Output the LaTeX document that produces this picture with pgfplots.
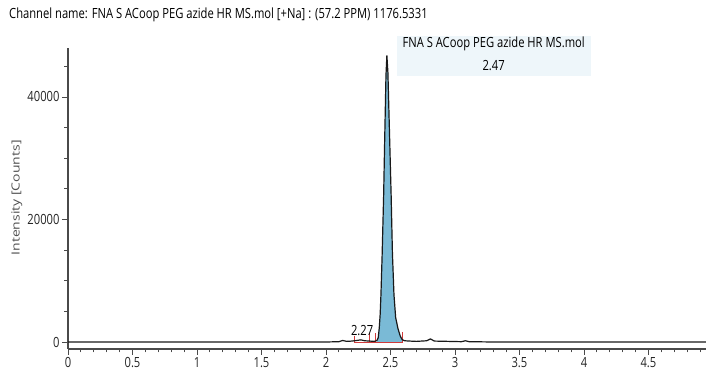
\documentclass[border=0pt]{standalone}
\usepackage{fontspec}
\setmainfont{Open Sans}[FakeStretch=0.8]
\newfontfamily\ylabfont{Open Sans}
\usepackage{graphicx}
\usepackage{pgfplots}
\pgfplotsset{compat=1.18}
\definecolor{axgray}{HTML}{4A4A4A}
\definecolor{peakblue}{HTML}{7ABAD6}
\definecolor{boxblue}{HTML}{EEF6FA}
\definecolor{intred}{HTML}{D03A3A}
\definecolor{labgray}{HTML}{505050}
\begin{document}
\begin{tikzpicture}[x=1pt,y=1pt]
\useasboundingbox (0,0) rectangle (706,371);
\node[anchor=west, inner sep=0pt, font=\fontsize{14}{16}\selectfont] at (9,356) {Channel name: FNA S ACoop PEG azide HR MS.mol [+Na] : (57.2 PPM) 1176.5331};
\begin{axis}[
  scale only axis, width=638pt, height=301pt,
  at={(68pt,22pt)}, anchor=south west,
  xmin=0, xmax=4.946, ymin=-1143, ymax=48000,
  axis x line*=bottom, axis y line*=left,
  axis line style={-, axgray, line width=1.6pt},
  tick style={axgray, line width=0.8pt},
  tick align=outside,
  major tick length=6pt, minor tick length=3.5pt,
  scaled y ticks=false, scaled x ticks=false,
  xtick={0,0.5,1,1.5,2,2.5,3,3.5,4,4.5},
  xticklabels={0,0.5,1,1.5,2,2.5,3,3.5,4,4.5},
  minor xtick={0.1,0.2,0.3,0.4,0.6,0.7,0.8,0.9,1.1,1.2,1.3,1.4,1.6,1.7,1.8,1.9,2.1,2.2,2.3,2.4,2.6,2.7,2.8,2.9,3.1,3.2,3.3,3.4,3.6,3.7,3.8,3.9,4.1,4.2,4.3,4.4,4.6,4.7,4.8,4.9},
  ytick={0,20000,40000},
  yticklabels={0,20000,40000},
  minor ytick={5000,10000,15000,25000,30000,35000,45000},
  ticklabel style={font=\fontsize{14}{16}\selectfont, text=black!85},
  xticklabel style={yshift=1pt},
  yticklabel style={xshift=1pt},
  ylabel={\scalebox{1}[0.8]{\ylabfont Intensity [Counts]}},
  ylabel style={at={(axis description cs:-0.08,0.502)}, anchor=center, font=\fontsize{14}{16}\selectfont, text=labgray},
  clip=false,
]
% annotation box
\fill[boxblue] (axis cs:2.55,43400) rectangle (axis cs:4.054,49900);
\node[font=\fontsize{14}{16}\selectfont, inner sep=0pt] at (axis cs:3.30,48650) {FNA S ACoop PEG azide HR MS.mol};
\node[font=\fontsize{14}{16}\selectfont, inner sep=0pt] at (axis cs:3.30,45060) {2.47};
% peak area fill
\addplot[fill=peakblue, draw=none] coordinates {
 (2.395,-80) (2.395,250) (2.405,700) (2.413,2300) (2.42,4500) (2.426,7700) (2.435,14000)
 (2.447,24000) (2.455,33000) (2.465,43500) (2.472,46800) (2.48,44000) (2.49,36000)
 (2.505,24000) (2.515,14500) (2.527,7700) (2.54,4000) (2.558,2200) (2.575,1000) (2.59,400) (2.594,330) (2.594,-80)
} -- cycle;
% integration baseline and markers
\addplot[intred, line width=0.8pt] coordinates {(2.217,-80) (2.594,-80)};
\addplot[intred, line width=0.8pt] coordinates {(2.217,-80) (2.217,900)};
\addplot[intred, line width=0.8pt] coordinates {(2.340,-80) (2.340,1500)};
\addplot[intred, line width=0.8pt] coordinates {(2.385,-80) (2.385,1500)};
\addplot[intred, line width=0.8pt] coordinates {(2.594,-80) (2.594,1600)};
% chromatogram trace
\addplot[black!90, line width=1.2pt] coordinates {
 (0,0) (2.0,0) (2.10,50) (2.13,250) (2.16,100) (2.20,150) (2.24,250) (2.27,350) (2.30,200)
 (2.34,150) (2.37,100) (2.385,150) (2.395,250) (2.405,700) (2.413,2300) (2.42,4500)
 (2.426,7700) (2.435,14000) (2.447,24000) (2.455,33000) (2.465,43500) (2.472,46800)
 (2.48,44000) (2.49,36000) (2.505,24000) (2.515,14500) (2.527,7700) (2.54,4000)
 (2.558,2200) (2.575,1000) (2.59,400) (2.61,200) (2.65,150) (2.70,100) (2.78,200)
 (2.81,500) (2.84,150) (2.95,100) (3.05,50) (3.08,200) (3.11,50) (3.3,0) (4.946,0)
};
\node[font=\fontsize{14}{16}\selectfont, inner sep=0pt] at (axis cs:2.28,1800) {2.27};
\end{axis}
\end{tikzpicture}
\end{document}
